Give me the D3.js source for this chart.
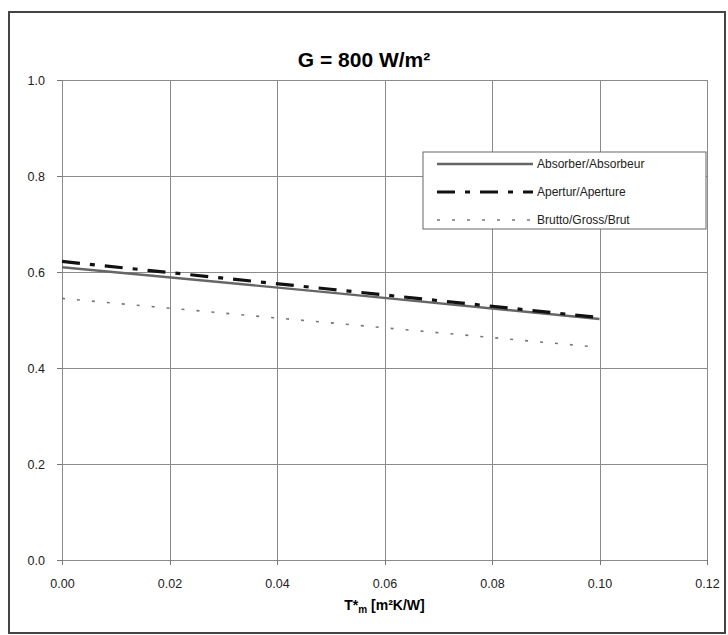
<!DOCTYPE html>
<meta charset="utf-8">
<style>
body { margin: 0; background: #fff; }
text { font-family: "Liberation Sans", Arial, sans-serif; }
.grid line { stroke: #8a8a8a; stroke-width: 1px; shape-rendering: crispEdges; }
.grid path { stroke-width: 0; }
.axis path { stroke: none; }
.axis line { stroke: #777; shape-rendering: crispEdges; }
.axis text { font-size: 12.5px; fill: #222; }
</style>
<body>
<script src="https://d3js.org/d3.v7.min.js"></script>
<script>

// data
var xVals = [0.00, 0.05, 0.10];
var absorber = [0.610, 0.557, 0.502];
var apertur = [0.622, 0.564, 0.505];
var brutto = [0.545, 0.494, 0.443];
var seriesNames = ["Absorber/Absorbeur", "Apertur/Aperture", "Brutto/Gross/Brut"];
var xTicks = [0, 0.02, 0.04, 0.06, 0.08, 0.10, 0.12];
var yTicks = [0, 0.2, 0.4, 0.6, 0.8, 1.0];

var W = 728, H = 635;
var margin = {top: 80, right: 21, bottom: 75, left: 62},
    width = W - margin.left - margin.right,
    height = H - margin.top - margin.bottom;

var x = d3.scaleLinear().domain([0, 0.12]).range([0, width]);
var y = d3.scaleLinear().domain([0, 1]).range([height, 0]);

var root = d3.select("body").append("svg")
    .attr("width", W)
    .attr("height", H);

// outer frame
root.append("rect")
    .attr("x", 9).attr("y", 12)
    .attr("width", W - 12).attr("height", H - 14)
    .attr("fill", "none")
    .attr("stroke", "#444")
    .attr("stroke-width", 2);

root.append("text")
    .attr("x", 364).attr("y", 67)
    .attr("text-anchor", "middle")
    .style("font-size", "21px")
    .style("font-weight", "bold")
    .text("G = 800 W/m²");

var svg = root.append("g")
    .attr("transform", "translate(" + margin.left + "," + margin.top + ")");

// gridlines
svg.append("g")
  .attr("class", "grid")
  .attr("transform", "translate(0," + height + ")")
  .call(d3.axisBottom(x).tickValues(xTicks).tickSize(-height).tickFormat(""));

svg.append("g")
  .attr("class", "grid")
  .call(d3.axisLeft(y).tickValues(yTicks).tickSize(-width).tickFormat(""));

// axes
svg.append("g")
  .attr("class", "axis")
  .attr("transform", "translate(0," + height + ")")
  .call(d3.axisBottom(x).tickValues(xTicks).tickSize(5).tickPadding(14).tickFormat(d3.format(".2f")));

svg.append("g")
  .attr("class", "axis")
  .call(d3.axisLeft(y).tickValues(yTicks).tickSize(5).tickPadding(12).tickFormat(d3.format(".1f")));

// x axis label
var xl = svg.append("text")
  .attr("x", x(0.06))
  .attr("y", height + 50)
  .attr("text-anchor", "middle")
  .style("font-size", "14px")
  .style("font-weight", "bold");
xl.append("tspan").text("T*");
xl.append("tspan").attr("dy", 3).style("font-size", "10px").text("m");
xl.append("tspan").attr("dy", -3).text(" [m²K/W]");

var styles = [
  {stroke: "#666", width: 2.4, dash: null},
  {stroke: "#111", width: 3.2, dash: "18,10,5,10"},
  {stroke: "#777", width: 1.6, dash: "3,12"}
];
var series = [absorber, apertur, brutto];

var line = d3.line()
  .x(function(d) { return x(d[0]); })
  .y(function(d) { return y(d[1]); });

series.forEach(function(s, i) {
  svg.append("path")
    .datum(xVals.map(function(v, j) { return [v, s[j]]; }))
    .attr("fill", "none")
    .attr("stroke", styles[i].stroke)
    .attr("stroke-width", styles[i].width)
    .attr("stroke-dasharray", styles[i].dash)
    .attr("d", line);
});

// legend
var lg = root.append("g").attr("transform", "translate(423,152)");
lg.append("rect")
  .attr("width", 283).attr("height", 77)
  .attr("fill", "#fff")
  .attr("stroke", "#666")
  .attr("stroke-width", 1);

seriesNames.forEach(function(name, i) {
  var yy = 12 + i * 28;
  lg.append("line")
    .attr("x1", 14).attr("x2", 110)
    .attr("y1", yy).attr("y2", yy)
    .attr("stroke", styles[i].stroke)
    .attr("stroke-width", styles[i].width)
    .attr("stroke-dasharray", styles[i].dash);
  lg.append("text")
    .attr("x", 114).attr("y", yy + 4)
    .style("font-size", "12px")
    .style("fill", "#222")
    .text(name);
});

</script>
</body>
</html>
